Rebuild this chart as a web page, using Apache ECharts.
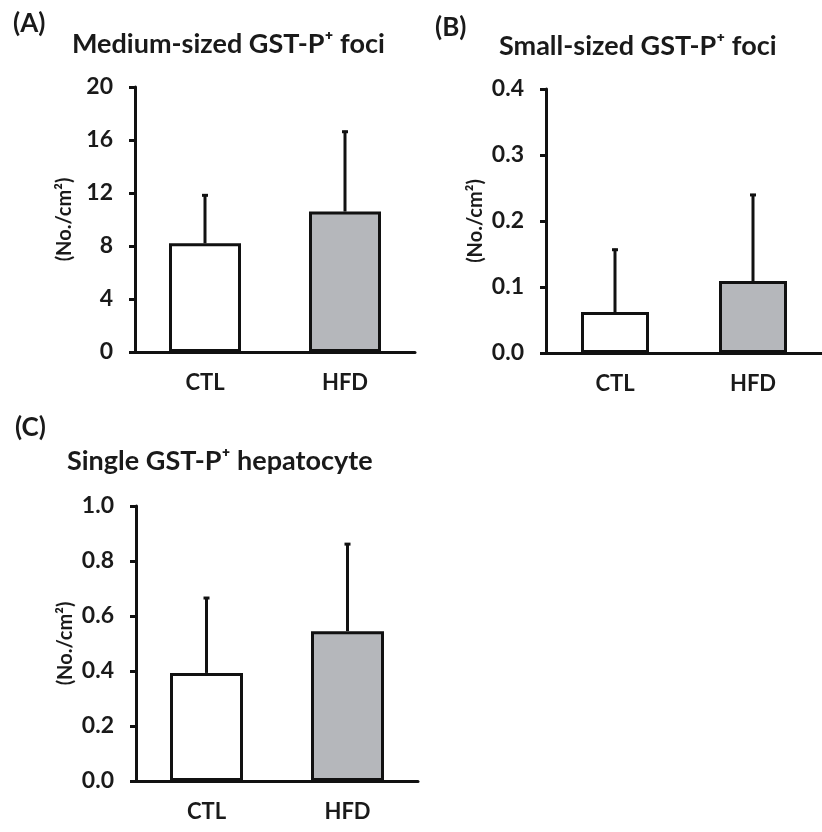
<!DOCTYPE html>
<html>
<head>
<meta charset="utf-8">
<script src="https://cdn.jsdelivr.net/npm/echarts@6/dist/echarts.min.js"></script>
<style>
  html, body { margin: 0; padding: 0; background: #fff; }
  #main { width: 822px; height: 832px; }
</style>
</head>
<body>
<div id="main"></div>
<script>
// data
var groups = ['CTL', 'HFD'];

var mediumMean = [8.2, 10.6];
var mediumSD = [3.7, 6.1];

var smallMean = [0.062, 0.109];
var smallSD = [0.096, 0.132];

var singleMean = [0.393, 0.545];
var singleSD = [0.276, 0.32];

var medTicks = [0, 20, 4];
var smallTicks = [0, 0.4, 0.1];
var singleTicks = [0, 1.0, 0.2];

var fillColors = ['#ffffff', '#b5b7bb'];
var font = 'Lato';

// panel layout
var grids = [
    { left: 135, top: 87, width: 280, height: 265 },
    { left: 546, top: 89, width: 276, height: 264 },
    { left: 136, top: 506, width: 282, height: 275 }
];

function xAxisFor(i) {
    return {
        type: 'category',
        gridIndex: i,
        data: groups,
        axisLine: { lineStyle: { color: '#111', width: 3 } },
        axisTick: { show: false },
        axisLabel: { color: '#1a1a1a', fontFamily: font, fontWeight: 'bold', fontSize: 22, margin: 20 }
    };
}

function yAxisFor(i, t, digits) {
    return {
        type: 'value',
        gridIndex: i,
        min: t[0],
        max: t[1],
        interval: t[2],
        name: '(No./cm²)',
        nameLocation: 'middle',
        nameGap: 60,
        nameTextStyle: { color: '#1a1a1a', fontFamily: font, fontWeight: 'bold', fontSize: 20 },
        splitLine: { show: false },
        axisLine: { show: true, lineStyle: { color: '#111', width: 3 } },
        axisTick: { show: true, length: 6, lineStyle: { color: '#111', width: 3 } },
        axisLabel: {
            color: '#1a1a1a', fontFamily: font, fontWeight: 'bold', fontSize: 23, margin: 22,
            formatter: function (v) { return v.toFixed(digits); }
        }
    };
}

function barSeries(i, mean, bw) {
    return {
        type: 'bar',
        xAxisIndex: i,
        yAxisIndex: i,
        barWidth: bw,
        data: mean.map(function (v, k) {
            return { value: v, itemStyle: { color: fillColors[k] } };
        }),
        itemStyle: { borderColor: '#111', borderWidth: 3 },
        z: 3
    };
}

// SD drawn upward only, with a small cap
function errSeries(i, mean, sd) {
    return {
        type: 'custom',
        xAxisIndex: i,
        yAxisIndex: i,
        data: mean.map(function (v, k) { return [k, v, v + sd[k]]; }),
        renderItem: function (params, api) {
            var lo = api.coord([api.value(0), api.value(1)]);
            var hi = api.coord([api.value(0), api.value(2)]);
            var st = { stroke: '#111', lineWidth: 3 };
            return {
                type: 'group',
                children: [
                    { type: 'line', shape: { x1: lo[0], y1: lo[1], x2: hi[0], y2: hi[1] }, style: st },
                    { type: 'line', shape: { x1: hi[0] - 3, y1: hi[1] + 1, x2: hi[0] + 3, y2: hi[1] + 1 }, style: st }
                ]
            };
        },
        z: 2
    };
}

var titleStyle = { color: '#1a1a1a', fontFamily: font, fontWeight: 'bold', fontSize: 27 };
var letterStyle = { color: '#1a1a1a', fontFamily: font, fontWeight: 'bold', fontSize: 26 };

var option = {
    backgroundColor: '#fff',
    animation: false,
    title: [
        { text: '(A)', left: 8, top: 6, textStyle: letterStyle },
        { text: 'Medium-sized GST-P⁺ foci', left: 67, top: 26, textStyle: titleStyle },
        { text: '(B)', left: 430, top: 10, textStyle: letterStyle },
        { text: 'Small-sized GST-P⁺ foci', left: 494, top: 28, textStyle: titleStyle },
        { text: '(C)', left: 10, top: 410, textStyle: letterStyle },
        { text: 'Single GST-P⁺ hepatocyte', left: 62, top: 443, textStyle: titleStyle }
    ],
    grid: grids,
    xAxis: [xAxisFor(0), xAxisFor(1), xAxisFor(2)],
    yAxis: [yAxisFor(0, medTicks, 0), yAxisFor(1, smallTicks, 1), yAxisFor(2, singleTicks, 1)],
    series: [
        errSeries(0, mediumMean, mediumSD),
        barSeries(0, mediumMean, 72),
        errSeries(1, smallMean, smallSD),
        barSeries(1, smallMean, 68),
        errSeries(2, singleMean, singleSD),
        barSeries(2, singleMean, 73)
    ]
};

var myChart = echarts.init(document.getElementById('main'));
myChart.setOption(option);
</script>
</body>
</html>
